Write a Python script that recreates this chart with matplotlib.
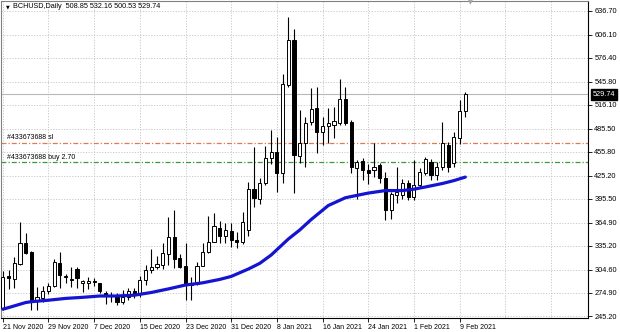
import matplotlib
matplotlib.use("Agg")
import matplotlib.pyplot as plt
import matplotlib.transforms as mtransforms
from matplotlib.patches import Rectangle

plt.rcParams['font.family'] = ['Liberation Sans', 'DejaVu Sans']

# ---------------- data ----------------
opens = [255.5, 296.0, 292.7, 312.0, 338.5, 327.0, 266.0, 268.0, 277.7, 284.0,
         313.6, 296.5, 293.0, 305.2, 287.6, 288.0, 290.0, 287.5, 275.3, 272.0,
         272.0, 263.5, 269.0, 277.0, 273.0, 291.4, 304.0, 307.6, 310.9, 325.0,
         346.0, 319.3, 309.4, 285.0, 286.3, 309.4, 327.4, 340.2, 358.2, 347.9,
         354.3, 342.8, 340.0, 355.0, 407.6, 395.4, 415.9, 447.6, 455.7, 429.1,
         541.7, 599.5, 450.6, 466.9, 494.6, 511.8, 481.8, 489.0, 490.0, 493.3,
         523.7, 494.6, 435.0, 444.5, 433.0, 432.6, 439.0, 422.0, 381.3, 400.5,
         401.0, 415.5, 398.3, 413.4, 428.4, 443.3, 426.2, 436.8, 464.7, 441.9,
         474.0, 508.85]
highs = [303.0, 304.0, 321.0, 366.0, 351.7, 329.0, 282.0, 283.7, 287.5, 319.0,
         327.0, 299.0, 307.5, 308.6, 291.4, 295.7, 294.3, 288.0, 277.0, 276.0,
         275.0, 278.6, 281.4, 281.0, 296.0, 311.0, 331.0, 322.0, 338.5, 372.0,
         381.0, 324.8, 338.5, 295.3, 314.5, 338.9, 373.5, 377.4, 367.1, 364.6,
         364.6, 353.0, 379.0, 417.6, 462.0, 422.3, 463.4, 484.0, 475.0, 555.8,
         629.4, 613.2, 509.6, 501.0, 538.3, 539.1, 500.6, 512.2, 513.5, 549.4,
         539.0, 497.0, 446.0, 447.6, 440.0, 466.9, 442.0, 430.0, 405.0, 437.0,
         421.0, 420.0, 445.4, 435.2, 449.0, 447.0, 442.9, 494.0, 469.0, 482.0,
         522.5, 532.16]
lows = [253.0, 280.0, 281.0, 311.0, 325.0, 253.0, 253.0, 263.0, 274.0, 283.0,
        281.0, 288.0, 283.0, 280.7, 276.5, 280.0, 284.0, 275.0, 260.0, 263.0,
        259.0, 261.0, 265.7, 268.0, 270.0, 285.0, 300.0, 305.0, 306.0, 310.7,
        306.8, 306.8, 265.7, 265.7, 285.0, 309.4, 326.0, 340.0, 338.9, 338.9,
        334.2, 332.5, 338.0, 348.0, 384.5, 389.0, 413.4, 440.0, 404.4, 416.0,
        539.0, 403.1, 441.6, 436.8, 490.0, 454.0, 464.7, 467.3, 474.0, 490.0,
        490.0, 428.4, 395.0, 419.8, 415.0, 424.0, 416.0, 368.4, 369.5, 390.0,
        395.0, 394.0, 394.0, 409.5, 426.0, 420.0, 419.8, 432.6, 430.4, 436.8,
        466.0, 500.53]
closes = [295.3, 294.0, 313.2, 339.0, 326.5, 265.7, 270.0, 277.3, 283.7, 314.9,
          297.8, 295.0, 292.0, 293.6, 290.5, 290.0, 289.5, 277.8, 272.5, 271.0,
          263.5, 269.0, 277.5, 272.0, 291.4, 304.2, 307.6, 311.5, 326.7, 346.2,
          318.4, 308.1, 286.3, 287.6, 309.4, 327.4, 340.2, 360.7, 348.5, 355.6,
          342.8, 339.6, 366.3, 408.2, 396.3, 415.3, 447.6, 455.7, 429.1, 543.0,
          599.5, 451.9, 466.9, 493.3, 510.5, 481.8, 489.1, 492.5, 496.0, 523.7,
          493.3, 436.1, 443.0, 432.6, 429.0, 436.8, 422.0, 381.3, 402.0, 405.0,
          415.5, 398.3, 413.4, 430.4, 446.3, 426.2, 436.8, 466.9, 436.8, 475.0,
          508.85, 529.74]

ma_idx = [0, 1, 4, 5, 8, 11, 14, 17, 20, 23, 26, 29, 32, 35, 38, 40, 43, 45, 47,
          50, 52, 54, 57, 60, 61, 64, 67, 70, 72, 74, 77, 79, 81]
ma_vals = [254.0, 256.0, 262.5, 263.6, 265.5, 267.8, 269.2, 270.9, 270.9, 271.9,
           275.4, 280.0, 285.0, 287.8, 292.2, 296.0, 305.5, 312.8, 323.5, 344.0,
           355.6, 369.0, 387.0, 397.0, 398.5, 403.0, 406.2, 406.2, 408.0, 410.8,
           415.3, 419.0, 423.5]

date_idx = [0, 8, 16, 24, 32, 40, 48, 56, 64, 72, 80]
date_labels = ["21 Nov 2020", "29 Nov 2020", "7 Dec 2020", "15 Dec 2020",
               "23 Dec 2020", "31 Dec 2020", "8 Jan 2021", "16 Jan 2021",
               "24 Jan 2021", "1 Feb 2021", "9 Feb 2021"]
price_ticks = [636.70, 606.10, 576.40, 545.80, 516.10, 485.50, 455.80, 425.20,
               395.50, 364.90, 335.20, 304.60, 274.90, 245.20]

sl_level = 467.6
buy_level = 442.5
last_price = 529.74
header = "BCHUSD,Daily  508.85 532.16 500.53 529.74"
sl_label = "#433673688 sl"
buy_label = "#433673688 buy 2.70"

# ---------------- figure ----------------
W, H = 620, 332
fig = plt.figure(figsize=(W / 100, H / 100), dpi=100)
ax_l, ax_r, ax_t, ax_b = 1, 588, 1, 317.5
ax = fig.add_axes([ax_l / W, 1 - ax_b / H, (ax_r - ax_l) / W, (ax_b - ax_t) / H])

px_per_bar = 5.71
x0_px = 2.8
ax.set_xlim((ax_l - x0_px) / px_per_bar, (ax_r - x0_px) / px_per_bar)
ax.set_ylim(243.3, 649.5)

grid_c = '#c8c8c8'
for p in price_ticks:
    ax.axhline(p, color=grid_c, lw=0.7, ls=(0, (1.2, 1.6)), zorder=0)
for d in date_idx + [88, 96]:
    ax.axvline(d, color=grid_c, lw=0.7, ls=(0, (1.2, 1.6)), zorder=0)

# current price line
ax.axhline(last_price, color='#b8b8b8', lw=0.8, zorder=1)

# order lines
tr_lbl = mtransforms.blended_transform_factory(ax.transAxes, ax.transData)
ax.axhline(sl_level, color='#e07a50', lw=0.9, ls=(0, (4, 1.6, 1, 1.6)), zorder=1)
ax.axhline(buy_level, color='#3c9a3c', lw=0.9, ls=(0, (4, 1.6, 1, 1.6)), zorder=1)
ax.text(6 / (ax_r - ax_l), sl_level + 2.0, sl_label, fontsize=5.0, va='bottom',
        ha='left', color='black', transform=tr_lbl, zorder=6)
ax.text(6 / (ax_r - ax_l), buy_level + 2.0, buy_label, fontsize=5.0, va='bottom',
        ha='left', color='black', transform=tr_lbl, zorder=6)

# candles
bw = 0.55
for i, (o, h, l, c) in enumerate(zip(opens, highs, lows, closes)):
    ax.plot([i, i], [l, h], color='black', lw=0.8, zorder=3, solid_capstyle='butt')
    bottom = min(o, c)
    height = max(abs(c - o), 0.6)
    face = 'white' if c >= o else 'black'
    ax.add_patch(Rectangle((i - bw / 2, bottom), bw, height, facecolor=face,
                           edgecolor='black', lw=0.7, zorder=4))

# moving average
ax.plot(ma_idx, ma_vals, color='#1414d2', lw=2.3, zorder=5, solid_capstyle='round')

# axes styling
for s in ax.spines.values():
    s.set_color('black')
    s.set_linewidth(0.8)
ax.spines['left'].set_color('#808080')
ax.spines['top'].set_color('#808080')

ax.yaxis.tick_right()
ax.set_yticks(price_ticks)
ax.set_yticklabels(['%.2f' % p for p in price_ticks])
ax.tick_params(axis='y', length=3, width=0.6, pad=1.5, labelsize=5.3, colors='black')
ax.set_xticks(date_idx)
ax.set_xticklabels(date_labels, ha='left')
ax.tick_params(axis='x', length=3, width=0.6, pad=1.5, labelsize=5.0, colors='black')
for lab in ax.get_xticklabels():
    lab.set_horizontalalignment('left')

# price box
tr = mtransforms.blended_transform_factory(ax.transAxes, ax.transData)
ax.text(1.0 + 4.5 / (ax_r - ax_l), last_price, '%.2f' % last_price, transform=tr,
        fontsize=5.3, color='white', va='center', ha='left', zorder=10,
        bbox=dict(boxstyle='square,pad=0.25', facecolor='black', edgecolor='black'))

# header
fig.text(5.5 / W, 1 - 6.5 / H, '\u25BC', fontsize=3.5, va='center', ha='left', color='black',
         family='DejaVu Sans')
fig.text(13 / W, 1 - 6.5 / H, header, fontsize=5.2, va='center', ha='left', color='black')
# chart shift marker
fig.text(470 / W, 1 - 2.5 / H, '\u25BC', fontsize=4.5, va='center', ha='center',
         color='#a0a0a0', family='DejaVu Sans')

fig.savefig('out.png', dpi=100, facecolor='white')
